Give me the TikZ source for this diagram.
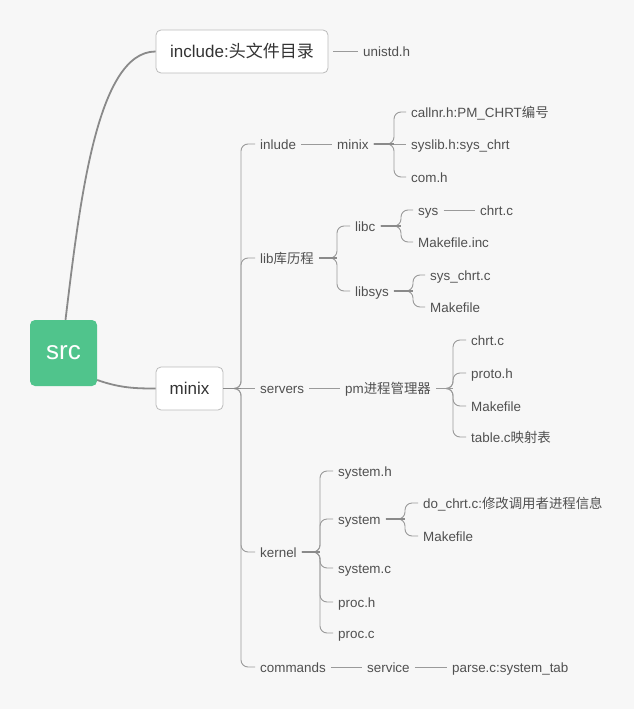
\documentclass[tikz,border=0pt]{standalone}
\usepackage{fontspec}
\setmainfont{Liberation Sans}
\newfontfamily\cjk{Noto Sans CJK SC}
\definecolor{bg}{HTML}{F7F7F7}
\definecolor{rootgreen}{HTML}{50C48C}
\definecolor{boxline}{HTML}{BBBBBB}
\definecolor{boxtext}{HTML}{333333}
\definecolor{leaftext}{HTML}{505050}
\definecolor{maincurve}{HTML}{8A8A8A}
\definecolor{branchline}{HTML}{9A9A9A}
\begin{document}
\begin{tikzpicture}[x=1pt,y=-1pt,
  leaf/.style={anchor=west, inner xsep=5pt, inner ysep=2pt, text height=10pt, text depth=0pt,
    font=\fontsize{13.4}{16}\selectfont, text=leaftext},
  topbox/.style={draw=boxline, fill=white, rounded corners=5pt, line width=0.8pt,
    text=boxtext, font=\fontsize{17}{20}\selectfont, text height=12pt, text depth=1pt, inner sep=0pt},
  rootbox/.style={fill=rootgreen, rounded corners=5pt, text=white, minimum width=67pt, minimum height=66pt,
    font=\fontsize{26}{30}\selectfont, text height=14pt, text depth=1pt, inner sep=0pt},
  maincon/.style={draw=maincurve, line width=1.8pt},
  branch/.style={draw=branchline, line width=0.9pt, rounded corners=7pt},
  stub/.style={draw=maincurve, line width=1.7pt},
  plain/.style={draw=branchline, line width=0.9pt}]
\fill[bg] (0,0) rectangle (634,709);
\useasboundingbox (0,0) rectangle (634,709);

% top level
\node[rootbox] (src) at (63.5,353) {src};
\node[topbox, minimum width=172pt, minimum height=43pt] (incl) at (242,51.5) {include:{\cjk 头文件目录}};
\node[topbox, minimum width=67pt, minimum height=43pt] (mnx) at (189.5,388.5) {minix};
\node[leaf] (unistd) at (358,51.5) {unistd.h};

\draw[maincon] ([xshift=2pt]src.north) .. controls (80,200) and (97,51.5) .. (incl.west);
\draw[maincon] ([yshift=-27pt]src.east) .. controls (120,388) and (135,388.5) .. (mnx.west);
\draw[plain, shorten <=5pt] (incl.east) -- (unistd.west);

% level 2
\coordinate (sm) at (241,388.5);
\node[leaf] (inlude) at (255,144) {inlude};
\node[leaf] (lib) at (255,258) {lib{\cjk 库历程}};
\node[leaf] (servers) at (255,388.5) {servers};
\node[leaf] (kernel) at (255,552) {kernel};
\node[leaf] (commands) at (255,667) {commands};
\draw[branch] (mnx.east) -- (sm) |- (inlude.west);
\draw[branch] (mnx.east) -- (sm) |- (lib.west);
\draw[branch] (mnx.east) -- (sm) |- (kernel.west);
\draw[branch] (mnx.east) -- (sm) |- (commands.west);
\draw[plain] (mnx.east) -- (servers.west);
\draw[stub] (mnx.east) -- (sm);

% inlude subtree
\node[leaf] (mx2) at (332,144) {minix};
\coordinate (smx2) at (394,144);
\node[leaf] (callnr) at (406,112) {callnr.h:PM\_CHRT{\cjk 编号}};
\node[leaf] (syslib) at (406,144) {syslib.h:sys\_chrt};
\node[leaf] (comh) at (406,177) {com.h};
\draw[plain] (inlude.east) -- (mx2.west);
\draw[branch] (mx2.east) -- (smx2) |- (callnr.west);
\draw[branch] (mx2.east) -- (smx2) |- (comh.west);
\draw[plain] (mx2.east) -- (syslib.west);
\draw[stub] (mx2.east) -- (smx2);

% lib subtree
\coordinate (slib) at (337,258);
\node[leaf] (libc) at (350,226) {libc};
\node[leaf] (libsys) at (350,291) {libsys};
\draw[branch] (lib.east) -- (slib) |- (libc.west);
\draw[branch] (lib.east) -- (slib) |- (libsys.west);
\draw[stub] (lib.east) -- (slib);

\coordinate (slibc) at (401,226);
\node[leaf] (sys) at (413,210) {sys};
\node[leaf] (mkinc) at (413,242) {Makefile.inc};
\node[leaf] (chrta) at (475,210) {chrt.c};
\draw[branch] (libc.east) -- (slibc) |- (sys.west);
\draw[branch] (libc.east) -- (slibc) |- (mkinc.west);
\draw[stub] (libc.east) -- (slibc);
\draw[plain] (sys.east) -- (chrta.west);

\coordinate (slibsys) at (413,291);
\node[leaf] (syschrt) at (425,275) {sys\_chrt.c};
\node[leaf] (mka) at (425,307) {Makefile};
\draw[branch] (libsys.east) -- (slibsys) |- (syschrt.west);
\draw[branch] (libsys.east) -- (slibsys) |- (mka.west);
\draw[stub] (libsys.east) -- (slibsys);

% servers subtree
\node[leaf] (pm) at (340,388.5) {pm{\cjk 进程管理器}};
\draw[plain] (servers.east) -- (pm.west);
\coordinate (spm) at (453,388.5);
\node[leaf] (chrtb) at (466,340) {chrt.c};
\node[leaf] (proto) at (466,373) {proto.h};
\node[leaf] (mkb) at (466,406) {Makefile};
\node[leaf] (table) at (466,437) {table.c{\cjk 映射表}};
\draw[branch] (pm.east) -- (spm) |- (chrtb.west);
\draw[branch] (pm.east) -- (spm) |- (proto.west);
\draw[branch] (pm.east) -- (spm) |- (mkb.west);
\draw[branch] (pm.east) -- (spm) |- (table.west);
\draw[plain] (pm.east) -- (spm);

% kernel subtree
\coordinate (sk) at (320,552);
\node[leaf] (sysh) at (333,471) {system.h};
\node[leaf] (system) at (333,519) {system};
\node[leaf] (sysc) at (333,568) {system.c};
\node[leaf] (proch) at (333,602) {proc.h};
\node[leaf] (procc) at (333,633) {proc.c};
\draw[branch] (kernel.east) -- (sk) |- (sysh.west);
\draw[branch] (kernel.east) -- (sk) |- (system.west);
\draw[branch] (kernel.east) -- (sk) |- (sysc.west);
\draw[branch] (kernel.east) -- (sk) |- (proch.west);
\draw[branch] (kernel.east) -- (sk) |- (procc.west);
\draw[stub] (kernel.east) -- (sk);

\coordinate (ssys) at (405,519);
\node[leaf] (dochrt) at (418,503) {do\_chrt.c:{\cjk 修改调用者进程信息}};
\node[leaf] (mkc) at (418,536) {Makefile};
\draw[branch] (system.east) -- (ssys) |- (dochrt.west);
\draw[branch] (system.east) -- (ssys) |- (mkc.west);
\draw[stub] (system.east) -- (ssys);

% commands subtree
\node[leaf] (service) at (362,667) {service};
\node[leaf] (parse) at (447,667) {parse.c:system\_tab};
\draw[plain] (commands.east) -- (service.west);
\draw[plain] (service.east) -- (parse.west);
\end{tikzpicture}
\end{document}
